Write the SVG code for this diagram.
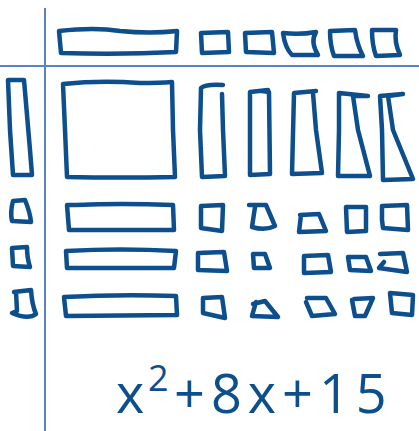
<svg xmlns="http://www.w3.org/2000/svg" width="419" height="431" viewBox="0 0 419 431">
<style>
.t{fill:none;stroke:#0c4f8c;stroke-width:4.5;stroke-linejoin:round;stroke-linecap:round}
.ax{stroke:#5b82c2;stroke-width:2;fill:none}
.lbl{font-family:"Open Sans","DejaVu Sans",sans-serif;fill:#0c4f8c}
</style>
<rect width="419" height="431" fill="#fff"/>
<g id="axes">
<line class="ax" x1="45" y1="8" x2="45" y2="431"/>
<line class="ax" x1="0" y1="66" x2="419" y2="66"/>
</g>
<g id="top-row">
<path class="t" d="M59,31 Q95,27 120,31 Q150,34 177,31 L176,52 Q120,55 61,53 Z"/>
<path class="t" d="M201,33 L228,32 L229,52 L202,53 Z"/>
<path class="t" d="M245,33 L272,32 L274,53 L246,52 Z"/>
<path class="t" d="M283,33 Q300,35 316,32 Q310,42 318,55 L292,55 Q285,48 283,33 Z"/>
<path class="t" d="M330,31 L355,30 Q357,45 363,56 L334,56 Q330,45 330,31 Z"/>
<path class="t" d="M372,30 L396,30 Q394,42 400,55 L376,56 Q372,45 372,30 Z"/>
</g>
<g id="left-col">
<path class="t" d="M8,80 L24,80 L30,150 L32,175 L13,175 L10,130 Z"/>
<path class="t" d="M13,201 L25,200 Q30,212 31,222 L12,221 Q10,212 13,201 Z"/>
<path class="t" d="M12,248 L27,247 Q27,258 30,267 L13,266 Z"/>
<path class="t" d="M14,292 L31,290 Q32,305 36,314 Q28,320 12,313 L17,311 L16,292"/>
</g>
<g id="x-squared">
<path class="t" d="M63,84 Q100,80 140,83 Q160,83 172,82 L173,130 L175,177 Q120,178 67,177 L65,130 Z"/>
</g>
<g id="x-columns">
<path class="t" d="M223,85 Q205,84 201,88 L200,130 L202,177 L225,176 L223,130 L222,94"/>
<path class="t" d="M268,90 L250,92 L250,175 L270,174 L269,92 L262,91"/>
<path class="t" d="M316,91 L294,93 L292,174 L322,173 L316,130 L313,93"/>
<path class="t" d="M339,93 L368,96 L353,96 L358,130 L370,176 L338,176 L339,130 Z"/>
<path class="t" d="M380,96 L403,94 L388,96 L393,130 L413,179 L383,180 L382,130 Z"/>
</g>
<g id="x-rows">
<path class="t" d="M67,205 L76,205 Q120,203 173,205 L174,230 L69,230 Z"/>
<path class="t" d="M66,251 Q120,248 176,251 L174,268 L67,268 Z"/>
<path class="t" d="M64,297 Q120,294 176,296 L177,315 L66,316 Z"/>
</g>
<g id="units">
<path class="t" d="M201,206 L223,205 L222,231 L201,228 Z"/>
<path class="t" d="M249,205 L266,205 L275,226 Q265,231 252,227 L255,207"/>
<path class="t" d="M300,215 L319,214 L326,231 L299,232 L301,215"/>
<path class="t" d="M346,207 L366,207 L366,231 L347,232 Z"/>
<path class="t" d="M382,206 L407,205 L408,230 L383,228 L382,220 Z"/>
<path class="t" d="M198,253 L224,252 L227,271 L198,270 Z"/>
<path class="t" d="M253,254 L265,254 L270,268 L254,268 Z"/>
<path class="t" d="M304,256 L328,255 L331,272 L304,273 Z"/>
<path class="t" d="M348,257 L366,257 L371,271 L350,270 Z"/>
<path class="t" d="M380,254 L403,253 L407,272 L379,268 L384,262"/>
<path class="t" d="M203,298 L222,297 L225,318 L203,313 Z"/>
<path class="t" d="M253,304 L265,301 L278,317 L252,316 L256,302"/>
<path class="t" d="M307,298 L326,298 L335,314 L312,316 L306,302"/>
<path class="t" d="M354,299 L373,298 L365,316 L355,316 L352,300"/>
<path class="t" d="M390,293 L413,295 L412,315 L392,313 Z"/>
</g>
<g id="expression">
<text class="lbl" x="116" y="413" font-size="54">x</text>
<text class="lbl" x="148" y="391" font-size="36">2</text>
<text class="lbl" x="174" y="413" font-size="54" letter-spacing="6">+8x+15</text>
</g>
</svg>
